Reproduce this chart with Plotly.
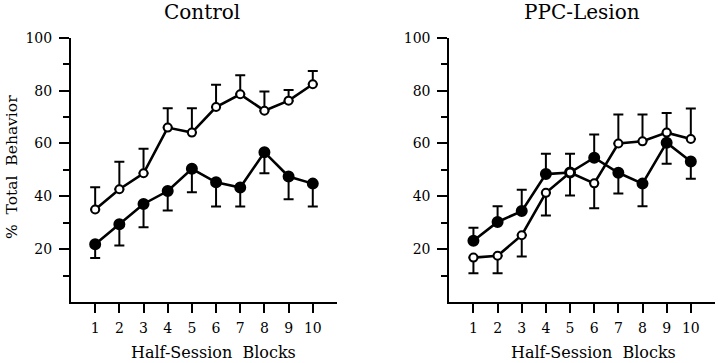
import plotly.graph_objects as go

blocks = [1, 2, 3, 4, 5, 6, 7, 8, 9, 10]
y_tickvals = [20, 40, 60, 80, 100]
y_minor_vals = [10, 30, 50, 70, 90]

# Control panel
ctrl_open = [35.0, 42.7, 48.7, 66.0, 64.1, 73.8, 78.6, 72.4, 76.2, 82.4]
ctrl_open_hi = [43.4, 53.1, 58.0, 73.3, 73.3, 82.2, 85.8, 79.7, 80.2, 87.4]
ctrl_open_lo = [None] * 10
ctrl_filled = [21.9, 29.4, 37.1, 42.0, 50.4, 45.3, 43.3, 56.7, 47.5, 44.8]
ctrl_filled_hi = [None] * 10
ctrl_filled_lo = [16.7, 21.4, 28.3, 34.6, 41.5, 36.1, 36.1, 48.7, 38.9, 36.1]

# PPC-Lesion panel
ppc_open = [16.8, 17.5, 25.3, 41.3, 49.0, 44.9, 60.0, 60.8, 64.1, 61.7]
ppc_open_hi = [None, None, None, None, None, None, 71.0, 71.0, 71.5, 73.2]
ppc_open_lo = [10.9, 10.9, 17.2, 32.7, 40.3, 35.5, None, None, None, None]
ppc_filled = [23.2, 30.3, 34.4, 48.4, 49.0, 54.6, 48.9, 44.8, 60.3, 53.2]
ppc_filled_hi = [28.1, 36.2, 42.5, 56.1, 56.1, 63.4, None, None, None, None]
ppc_filled_lo = [None, None, None, None, None, None, 41.1, 36.2, 52.3, 46.6]

FONT = "DejaVu Serif"


def err(vals, hi, lo):
    plus = [(h - v) if h is not None else 0 for v, h in zip(vals, hi)]
    minus = [(v - l) if l is not None else 0 for v, l in zip(vals, lo)]
    return dict(type="data", symmetric=False, array=plus, arrayminus=minus,
                color="black", thickness=2, width=5)


def trace(vals, hi, lo, filled, xa, ya):
    return go.Scatter(
        x=blocks, y=vals, mode="lines+markers", xaxis=xa, yaxis=ya,
        line=dict(color="black", width=2.6),
        marker=dict(symbol="circle", size=10 if filled else 8,
                    color="black" if filled else "white",
                    line=dict(color="black", width=2)),
        error_y=err(vals, hi, lo), showlegend=False, cliponaxis=False,
        hoverinfo="skip")


fig = go.Figure()
fig.add_trace(trace(ctrl_filled, ctrl_filled_hi, ctrl_filled_lo, True, "x", "y"))
fig.add_trace(trace(ctrl_open, ctrl_open_hi, ctrl_open_lo, False, "x", "y"))
fig.add_trace(trace(ppc_filled, ppc_filled_hi, ppc_filled_lo, True, "x2", "y2"))
fig.add_trace(trace(ppc_open, ppc_open_hi, ppc_open_lo, False, "x2", "y2"))

xax = dict(range=[0, 11], tickvals=blocks, ticktext=[str(b) for b in blocks],
           showline=True, linecolor="black", linewidth=2, ticks="outside",
           ticklen=9, tickwidth=2, tickcolor="black", showgrid=False,
           zeroline=False, automargin=False, ticklabelstandoff=3,
           tickfont=dict(family=FONT, size=14, color="black"))
yax = dict(range=[0, 100], tickvals=y_tickvals, showline=True, linecolor="black",
           linewidth=2, ticks="outside", ticklen=10, tickwidth=2,
           tickcolor="black", showgrid=False, zeroline=False, automargin=False,
           ticklabelstandoff=4,
           tickfont=dict(family=FONT, size=14, color="black"),
           minor=dict(tickvals=y_minor_vals, ticks="outside", ticklen=6,
                      tickwidth=2, tickcolor="black", showgrid=False))

labels = [
    dict(text="Control", x=202, y=12, size=20, angle=0),
    dict(text="PPC-Lesion", x=582, y=12, size=20, angle=0),
    dict(text="Half-Session  Blocks", x=213, y=352, size=16, angle=0),
    dict(text="Half-Session  Blocks", x=593, y=352, size=16, angle=0),
    dict(text="%  Total  Behavior", x=12, y=167, size=15.5, angle=-90),
]
anns = [dict(
    text=a["text"], x=a["x"] / 720, y=1 - a["y"] / 363,
    xref="paper", yref="paper", xanchor="center", yanchor="middle",
    showarrow=False, textangle=a["angle"],
    font=dict(family=FONT, size=a["size"], color="black")) for a in labels]

fig.update_layout(
    width=720, height=363, margin=dict(l=0, r=0, t=0, b=0, autoexpand=False),
    paper_bgcolor="white", plot_bgcolor="white",
    xaxis=dict(domain=[0.0986, 0.468], anchor="y", **xax),
    yaxis=dict(domain=[0.168, 0.896], anchor="x", **yax),
    xaxis2=dict(domain=[0.624, 0.993], anchor="y2", **xax),
    yaxis2=dict(domain=[0.168, 0.896], anchor="x2", **yax),
    annotations=anns,
)

post = ("document.body.style.margin='0';"
        "var d=document.getElementById('{plot_id}');"
        "d.style.position='absolute';d.style.left='0px';d.style.top='0px';")

fig.write_html("out.html", post_script=post,
               config={"displayModeBar": False, "staticPlot": True})
